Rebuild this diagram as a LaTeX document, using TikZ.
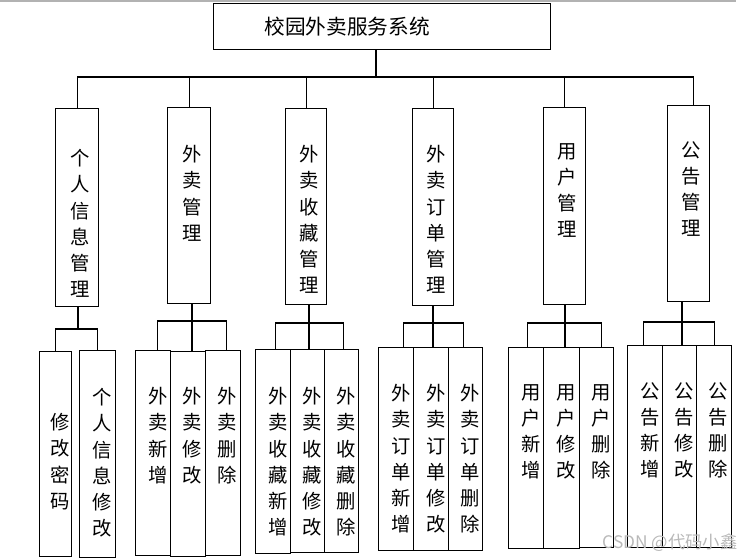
\documentclass[tikz,border=0pt]{standalone}
\usepackage{fontspec}
\usepackage{tikz}
\usetikzlibrary{positioning, calc}
\newfontfamily\cjk{Noto Sans CJK SC}
\newlength\pu
\setlength\pu{0.75pt}
% vertical column of characters: [shift]{width}{height}{top gap}{text}
\newcommand\vcol[5][10]{\parbox[c][#3\pu][t]{#2\pu}{\centering\leftskip=#1\pu plus 1fil\vspace*{#4\pu}#5}}
\tikzset{
  rootbox/.style={rectangle, draw, line width=0.8pt, inner sep=0pt, anchor=north west,
    minimum width=337\pu, minimum height=46\pu, font=\cjk\fontsize{15.5pt}{18pt}\selectfont},
  modbox/.style={rectangle, draw, line width=0.8pt, inner sep=0pt, anchor=north west,
    font=\cjk\fontsize{14.5pt}{19.6pt}\selectfont},
  funbox/.style={modbox},
  line/.style={line width=0.8pt, color=black},
  wmark/.style={font=\cjk\fontsize{13pt}{15pt}\selectfont, text=gray!55}
}
\begin{document}
\begin{tikzpicture}[x=0.75pt, y=-0.75pt]
  \useasboundingbox (0,0) rectangle (754,560);
  \draw[gray!60, line width=1pt] (0,1) -- (736,1);
  % Root
  \node[rootbox] (root) at (213,3) {校园外卖服务系统\hspace*{70\pu}};
  % Modules
  \node[modbox] (c1) at (55,108) {\vcol[6]{43}{198}{41}{个\\人\\信\\息\\管\\理}};
  \node[modbox] (c2) at (167,107) {\vcol[6]{43}{196}{38}{外\\卖\\管\\理}};
  \node[modbox] (c3) at (285,108) {\vcol[6]{41}{196}{37}{外\\卖\\收\\藏\\管\\理}};
  \node[modbox] (c4) at (412,108) {\vcol[6]{41}{197}{37}{外\\卖\\订\\单\\管\\理}};
  \node[modbox] (c5) at (543,107) {\vcol[6]{42}{197}{36}{用\\户\\管\\理}};
  \node[modbox] (c6) at (667,105) {\vcol[6]{42}{196}{36}{公\\告\\管\\理}};
  % Functions
  \node[funbox] (g11) at (39,351) {\vcol{32}{205}{62}{修\\改\\密\\码}};
  \node[funbox] (g12) at (79,350) {\vcol{36}{207}{38}{个\\人\\信\\息\\修\\改}};
  \node[funbox] (g21) at (135,350) {\vcol{34.5}{205}{37}{外\\卖\\新\\增}};
  \node[funbox] (g22) at (169.5,351) {\vcol{35}{205}{36}{外\\卖\\修\\改}};
  \node[funbox] (g23) at (204.5,350) {\vcol{35}{205}{37}{外\\卖\\删\\除}};
  \node[funbox] (g31) at (255,349) {\vcol{35}{204}{38}{外\\卖\\收\\藏\\新\\增}};
  \node[funbox] (g32) at (290,349) {\vcol{34}{203}{38}{外\\卖\\收\\藏\\修\\改}};
  \node[funbox] (g33) at (324,349) {\vcol{34}{203}{38}{外\\卖\\收\\藏\\删\\除}};
  \node[funbox] (g41) at (378,347) {\vcol{35}{203}{37}{外\\卖\\订\\单\\新\\增}};
  \node[funbox] (g42) at (413,347) {\vcol{35}{203}{37}{外\\卖\\订\\单\\修\\改}};
  \node[funbox] (g43) at (448,347) {\vcol{34}{203}{37}{外\\卖\\订\\单\\删\\除}};
  \node[funbox] (g51) at (508,347) {\vcol{35}{201}{37}{用\\户\\新\\增}};
  \node[funbox] (g52) at (543,347) {\vcol{35.5}{201}{37}{用\\户\\修\\改}};
  \node[funbox] (g53) at (578.5,347) {\vcol{34}{200}{37}{用\\户\\删\\除}};
  \node[funbox] (g61) at (627,345) {\vcol{34.5}{201.5}{37}{公\\告\\新\\增}};
  \node[funbox] (g62) at (661.5,345) {\vcol{34}{201.5}{37}{公\\告\\修\\改}};
  \node[funbox] (g63) at (695.5,345) {\vcol{35}{201.5}{37}{公\\告\\删\\除}};
  % Root links
  \coordinate (bus) at (376,77);
  \draw[line] (bus |- root.south) -- (bus);
  \draw[line] (c1.north) |- (bus) -| ([xshift=5\pu]c6.north);
  \foreach \m in {c2,c3,c4,c5} \draw[line] (\m.north) -- (\m.north |- bus);
  % Group links
  \coordinate (k1) at (78,329);
  \draw[line] (k1 |- c1.south) -- (k1);
  \draw[line] (g11.north) |- (k1) -| (g12.north);
  \coordinate (k2) at (192,321);
  \draw[line] (k2 |- c2.south) -- (k2 |- g22.north);
  \draw[line] ([xshift=5\pu]g21.north) |- (k2) -| ([xshift=4\pu]g23.north);
  \coordinate (k3) at (309,323);
  \draw[line] (k3 |- c3.south) -- (k3 |- g32.north);
  \draw[line] ([xshift=2\pu]g31.north) |- (k3) -| ([xshift=2\pu]g33.north);
  \coordinate (k4) at (433,323);
  \draw[line] (k4 |- c4.south) -- (k4 |- g42.north);
  \draw[line] ([xshift=7\pu]g41.north) |- (k4) -| ([xshift=-2\pu]g43.north);
  \coordinate (k5) at (565,323);
  \draw[line] (k5 |- c5.south) -- (k5 |- g52.north);
  \draw[line] ([xshift=1.5\pu]g51.north) |- (k5) -| ([xshift=5\pu]g53.north);
  \coordinate (k6) at (682,322);
  \draw[line] (k6 |- c6.south) -- (k6 |- g62.north);
  \draw[line] ([xshift=-1\pu]g61.north) |- (k6) -| ([xshift=1\pu]g63.north);
  % Watermark
  \node[wmark] (csdn) at (670,543) {CSDN @代码小鑫};
\end{tikzpicture}
\end{document}
